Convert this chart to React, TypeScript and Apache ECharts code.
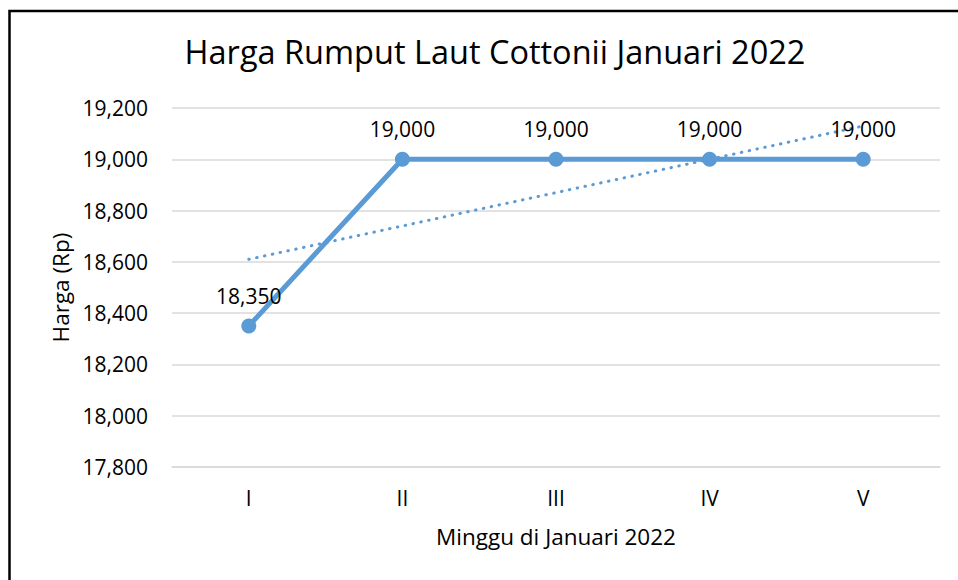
import React, { useEffect, useRef } from "react";
import * as echarts from "echarts";

const categories = ["I", "II", "III", "IV", "V"];
const prices = [18350, 19000, 19000, 19000, 19000];
const trend = [18610, 18740, 18870, 19000, 19130];
const yMin = 17800;
const yMax = 19200;
const yStep = 200;

const FONT = "'Open Sans', 'Noto Sans', sans-serif";
const BLUE = "#5B9BD5";

export default function App() {
  const ref = useRef<HTMLDivElement>(null);
  useEffect(() => {
    if (!ref.current) return;
    const chart = echarts.init(ref.current, null, { renderer: "svg" });
    chart.setOption({
      animation: false,
      backgroundColor: "#fff",
      textStyle: { fontFamily: FONT },
      title: {
        text: "Harga Rumput Laut Cottonii Januari 2022",
        left: 490,
        top: 30,
        textAlign: "center",
        textStyle: { fontFamily: FONT, fontSize: 32.5, fontWeight: "normal", color: "#000" },
      },
      graphic: [
        {
          type: "rect",
          shape: { x: 9.5, y: 11, width: 1000, height: 1000 },
          style: { fill: "none", stroke: "#000", lineWidth: 2.5 },
          silent: true,
        },
      ],
      grid: { left: 172, right: 18, top: 108, bottom: 113 },
      xAxis: {
        type: "category",
        data: categories,
        boundaryGap: true,
        axisLine: { show: true, lineStyle: { color: "#d9d9d9", width: 1.5 } },
        axisTick: { show: false },
        axisLabel: { color: "#000", fontSize: 21, fontFamily: FONT, margin: 20 },
        name: "Minggu di Januari 2022",
        nameLocation: "middle",
        nameGap: 58,
        nameTextStyle: { color: "#000", fontSize: 22.5, fontFamily: FONT },
      },
      yAxis: {
        type: "value",
        min: yMin,
        max: yMax,
        interval: yStep,
        axisLine: { show: false },
        axisTick: { show: false },
        splitLine: { lineStyle: { color: "#d9d9d9", width: 1.5 } },
        axisLabel: {
          color: "#000",
          fontSize: 21,
          fontFamily: FONT,
          margin: 24,
          formatter: (v: number) => v.toLocaleString("en-US"),
        },
        name: "Harga (Rp)",
        nameLocation: "middle",
        nameGap: 97,
        nameTextStyle: { color: "#000", fontSize: 22.5, fontFamily: FONT },
      },
      series: [
        {
          name: "Harga",
          type: "line",
          data: prices,
          symbol: "circle",
          symbolSize: 15,
          lineStyle: { color: BLUE, width: 5 },
          itemStyle: { color: BLUE },
          label: {
            show: true,
            position: "top",
            distance: 12,
            color: "#000",
            fontSize: 21,
            fontFamily: FONT,
            formatter: (p: any) => Number(p.value).toLocaleString("en-US"),
          },
          z: 3,
        },
        {
          name: "Trend",
          type: "line",
          data: trend,
          symbol: "none",
          lineStyle: { color: BLUE, width: 3, type: [0.5, 7.5], cap: "round" },
          z: 2,
        },
      ],
    });
    return () => chart.dispose();
  }, []);
  return (
    <div
      ref={ref}
      style={{ position: "fixed", left: 0, top: 0, width: 958, height: 580 }}
    />
  );
}
